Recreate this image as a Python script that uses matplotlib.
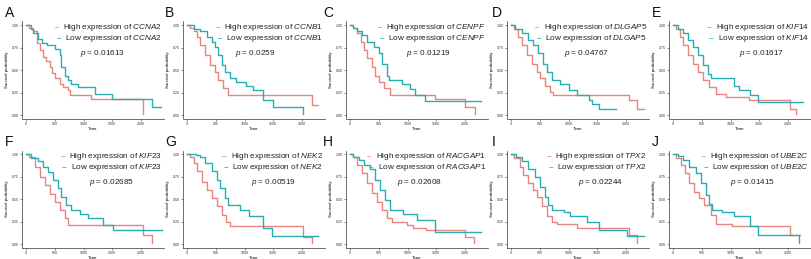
import matplotlib
matplotlib.use("Agg")
import matplotlib.pyplot as plt

plt.rcParams['font.family'] = ['Liberation Sans', 'DejaVu Sans']
plt.rcParams['mathtext.fontset'] = 'custom'
plt.rcParams['mathtext.rm'] = 'Liberation Sans'
plt.rcParams['mathtext.it'] = 'Liberation Sans:italic'

letters = ["A", "B", "C", "D", "E", "F", "G", "H", "I", "J"]
genes = ["CCNA2", "CCNB1", "CENPF", "DLGAP5", "KIF14",
         "KIF23", "NEK2", "RACGAP1", "TPX2", "UBE2C"]
pvals = ["0.01613", "0.0259", "0.01219", "0.04767", "0.01617",
         "0.02685", "0.00519", "0.02608", "0.02244", "0.01415"]
p_x = [0.57, 0.51, 0.58, 0.56, 0.65, 0.63, 0.64, 0.52, 0.66, 0.59]

high_t = [
    [0, 60, 126, 184, 240, 299, 350, 414, 460, 500, 586, 650, 730, 759, 1132, 2034],
    [0, 60, 114, 171, 229, 314, 400, 486, 543, 629, 714, 2171, 2286],
    [0, 50, 126, 183, 240, 298, 384, 441, 498, 584, 699, 1472, 2000, 2170],
    [0, 60, 128, 186, 273, 360, 448, 506, 593, 680, 738, 2047, 2190, 2308],
    [0, 60, 114, 171, 257, 343, 429, 514, 629, 743, 914, 1314, 2029, 2143],
    [0, 60, 155, 241, 328, 414, 500, 586, 672, 730, 2034, 2195],
    [0, 50, 114, 171, 257, 343, 429, 514, 600, 686, 743, 2011, 2171],
    [0, 50, 126, 212, 298, 384, 470, 556, 642, 727, 985, 1100, 1330, 2005, 2160],
    [0, 60, 157, 215, 302, 390, 448, 535, 622, 709, 797, 1145, 2047, 2192],
    [0, 60, 143, 200, 286, 371, 457, 543, 657, 743, 1029, 2040, 2200],
]
high_s = [
    [1, 0.97, 0.93, 0.80, 0.72, 0.65, 0.60, 0.54, 0.47, 0.41, 0.35, 0.31, 0.28, 0.22, 0.18, 0.02],
    [1, 0.97, 0.94, 0.87, 0.78, 0.67, 0.56, 0.48, 0.39, 0.30, 0.22, 0.11, 0.11],
    [1, 0.97, 0.91, 0.81, 0.72, 0.63, 0.54, 0.44, 0.37, 0.30, 0.22, 0.18, 0.09, 0.01],
    [1, 0.96, 0.87, 0.78, 0.67, 0.57, 0.48, 0.41, 0.32, 0.26, 0.22, 0.17, 0.07, 0.07],
    [1, 0.96, 0.87, 0.78, 0.67, 0.57, 0.48, 0.39, 0.31, 0.24, 0.20, 0.17, 0.07, 0.01],
    [1, 0.97, 0.86, 0.75, 0.66, 0.56, 0.47, 0.38, 0.29, 0.21, 0.10, 0.01],
    [1, 0.97, 0.90, 0.81, 0.69, 0.60, 0.51, 0.42, 0.32, 0.25, 0.20, 0.08, 0.01],
    [1, 0.97, 0.88, 0.79, 0.68, 0.57, 0.47, 0.38, 0.29, 0.25, 0.21, 0.18, 0.16, 0.08, 0.01],
    [1, 0.96, 0.86, 0.77, 0.68, 0.60, 0.53, 0.42, 0.31, 0.25, 0.23, 0.18, 0.10, 0.01],
    [1, 0.96, 0.88, 0.79, 0.68, 0.58, 0.51, 0.44, 0.33, 0.23, 0.20, 0.10, 0.10],
]
low_t = [
    [0, 80, 126, 210, 270, 360, 500, 586, 615, 672, 730, 786, 900, 1200, 1500, 2195, 2345],
    [0, 114, 229, 343, 429, 486, 543, 600, 657, 743, 857, 1029, 1143, 1314, 1500, 2011, 2020],
    [0, 60, 126, 212, 298, 412, 498, 556, 642, 670, 899, 1043, 1129, 1300, 2270],
    [0, 70, 186, 302, 390, 477, 564, 622, 709, 855, 1000, 1145, 1349, 1400, 1523, 1831],
    [0, 80, 171, 257, 343, 429, 514, 600, 657, 1057, 1143, 1343, 1486, 2257],
    [0, 80, 213, 299, 385, 471, 557, 615, 701, 787, 931, 1075, 1333, 1506, 2368],
    [0, 150, 229, 314, 429, 514, 571, 657, 714, 914, 1086, 1314, 1486, 2286],
    [0, 60, 155, 241, 355, 441, 527, 613, 699, 928, 1157, 1480, 2275],
    [0, 80, 186, 302, 419, 506, 593, 651, 709, 913, 1029, 1320, 1523, 2017, 2308],
    [0, 80, 171, 286, 400, 486, 571, 629, 686, 857, 1057, 1343, 1486, 2183, 2190],
]
low_s = [
    [1, 0.96, 0.91, 0.85, 0.80, 0.78, 0.74, 0.67, 0.54, 0.44, 0.39, 0.35, 0.31, 0.24, 0.18, 0.09, 0.09],
    [1, 0.96, 0.93, 0.87, 0.81, 0.76, 0.67, 0.56, 0.48, 0.41, 0.37, 0.33, 0.28, 0.17, 0.09, 0.02, 0.02],
    [1, 0.97, 0.94, 0.89, 0.81, 0.76, 0.69, 0.57, 0.44, 0.39, 0.35, 0.29, 0.22, 0.16, 0.16],
    [1, 0.96, 0.91, 0.83, 0.78, 0.69, 0.57, 0.48, 0.39, 0.35, 0.28, 0.22, 0.17, 0.13, 0.07, 0.07],
    [1, 0.96, 0.91, 0.83, 0.76, 0.67, 0.56, 0.46, 0.41, 0.33, 0.28, 0.22, 0.15, 0.15],
    [1, 0.96, 0.92, 0.86, 0.80, 0.71, 0.62, 0.53, 0.44, 0.38, 0.34, 0.29, 0.21, 0.16, 0.16],
    [1, 0.99, 0.97, 0.90, 0.81, 0.71, 0.62, 0.51, 0.44, 0.38, 0.31, 0.18, 0.09, 0.09],
    [1, 0.97, 0.94, 0.88, 0.83, 0.71, 0.60, 0.49, 0.38, 0.34, 0.27, 0.14, 0.14],
    [1, 0.97, 0.92, 0.84, 0.75, 0.64, 0.53, 0.44, 0.38, 0.36, 0.31, 0.25, 0.16, 0.09, 0.09],
    [1, 0.98, 0.94, 0.86, 0.79, 0.68, 0.55, 0.45, 0.38, 0.36, 0.31, 0.20, 0.10, 0.01, 0.01],
]

x_ticks = [0, 500, 1000, 1500, 2000]
y_ticks = [0.00, 0.25, 0.50, 0.75, 1.00]
y_ticklabels = ["0.00", "0.25", "0.50", "0.75", "1.00"]

RED = "#E9837D"
TEAL = "#27AEB1"

W, H = 811, 259
fig = plt.figure(figsize=(W / 100, H / 100), dpi=100)

col_left = [22, 183, 346, 507, 669]
ax_w = 142
row_top = [21.5, 150.5]
ax_h = 97

for i in range(10):
    r, c = divmod(i, 5)
    left = col_left[c] / W
    bottom = 1 - (row_top[r] + ax_h) / H
    ax = fig.add_axes([left, bottom, ax_w / W, ax_h / H])
    ax.step(high_t[i], high_s[i], where='post', color=RED, lw=1.0)
    ax.step(low_t[i], low_s[i], where='post', color=TEAL, lw=1.0)
    ax.set_xlim(-70, 2400)
    ax.set_ylim(-0.035, 1.04)
    ax.set_xticks(x_ticks)
    ax.set_xticklabels([str(v) for v in x_ticks])
    ax.set_yticks(y_ticks)
    ax.set_yticklabels(y_ticklabels)
    ax.tick_params(labelsize=2.6, length=1.2, width=0.4, pad=1, colors='#333333')
    for s in ['top', 'right']:
        ax.spines[s].set_visible(False)
    for s in ['left', 'bottom']:
        ax.spines[s].set_linewidth(0.5)
        ax.spines[s].set_color('#333333')
    ax.set_xlabel("Time", fontsize=3.2, labelpad=1)
    ax.set_ylabel("Survival probability", fontsize=3.2, labelpad=2)

    ty = [0.94, 0.82]
    labels = ["High expression of $\\mathit{%s}$" % genes[i],
              "Low expression of $\\mathit{%s}$" % genes[i]]
    for lab, yy, colr in zip(labels, ty, [RED, TEAL]):
        t = ax.text(0.985, yy, lab, transform=ax.transAxes, ha='right',
                    va='center', fontsize=5.9, color='#222222')
        ax.annotate("\u2013", xy=(0, 0.5), xycoords=t, xytext=(-3, 0),
                    textcoords='offset points', ha='right', va='center',
                    fontsize=5.9, color=colr, fontweight='bold')
    ax.text(p_x[i], 0.665, "$p$ = " + pvals[i], transform=ax.transAxes,
            ha='center', va='center', fontsize=5.9, color='#222222')

    lx = [5, 165, 323, 492, 652][c]
    ly = [13, 142][r]
    fig.text(lx / W, 1 - ly / H, letters[i], fontsize=10, ha='left',
             va='center', color='#111111')

fig.savefig("out.png", dpi=100)
